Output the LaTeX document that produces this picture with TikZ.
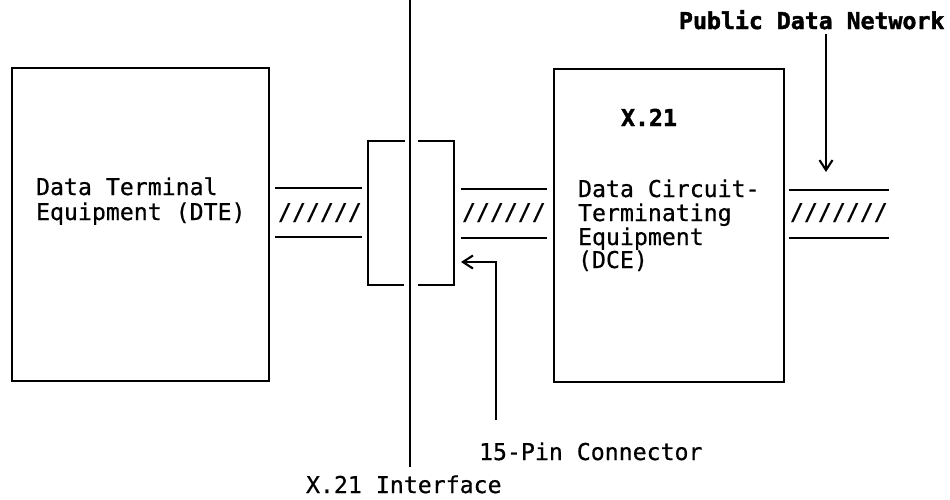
\documentclass[tikz,border=0pt]{standalone}
\usepackage{fontspec}
\setmainfont{DejaVu Sans Mono}[FakeBold=0.6,BoldFeatures={FakeBold=1.8}]
\usetikzlibrary{arrows.meta}
\begin{document}
\begin{tikzpicture}[x=1pt,y=-1pt,line width=2.1pt,
  box/.style={draw,line width=2.1pt,inner sep=0pt,anchor=north west},
  lbl/.style={anchor=base west,inner sep=0pt,font=\fontsize{23.2}{25}\selectfont},
  blbl/.style={anchor=base west,inner sep=0pt,font=\fontsize{23.2}{25}\selectfont\bfseries},
  barb/.style={-{Straight Barb[length=10pt,width=13pt,line width=2.1pt]}}]
\useasboundingbox (0,0) rectangle (950,499);
% main boxes
\node[box,minimum width=257pt,minimum height=313pt] (dte) at (11,67) {};
\node[box,minimum width=230pt,minimum height=313pt] (dce) at (553,68) {};
% texts
\node[lbl] (dte1) at (35,195) {Data Terminal};
\node[lbl] (dte2) at (35,220) {Equipment (DTE)};
\node[blbl] (x21) at (620,126) {X.21};
\node[lbl] (dce1) at (577,197) {Data Circuit-};
\node[lbl] (dce2) at (577,221) {Terminating};
\node[lbl] (dce3) at (577,245) {Equipment};
\node[lbl] (dce4) at (577,268) {(DCE)};
% interface line
\coordinate (ifTop) at (410,0);
\coordinate (ifBot) at (410,467);
\draw (ifTop) -- (ifBot);
\node[lbl] (iflbl) at (305,493) {X.21 Interface};
% connector box (two halves)
\draw (405,141) -| (368,285) -- (404,285);
\draw (418,141) -| (454,285) -- (418,285);
% cables
\draw (275,188) -- (362,188);
\draw (275,237) -- (362,237);
\node[lbl] (sl1) at (277,220) {//////};
\draw (461,189) -- (547,189);
\draw (461,238) -- (547,238);
\node[lbl] (sl2) at (461,220) {//////};
\draw (789,190) -- (889,190);
\draw (789,238) -- (889,238);
\node[lbl] (sl3) at (789,220) {///////};
% 15-pin connector pointer
\node[lbl] (pin) at (478,460) {15-Pin Connector};
\coordinate (pinFoot) at (496,420);
\coordinate (pinTip) at (461,262);
\draw[barb] (pinFoot) |- (pinTip);
% public data network
\node[blbl] (pdn) at (678,29) {Public Data Network};
\coordinate (pdnTop) at (826,34);
\coordinate (pdnTip) at (826,172);
\draw[barb] (pdnTop) -- (pdnTip);
\end{tikzpicture}
\end{document}
